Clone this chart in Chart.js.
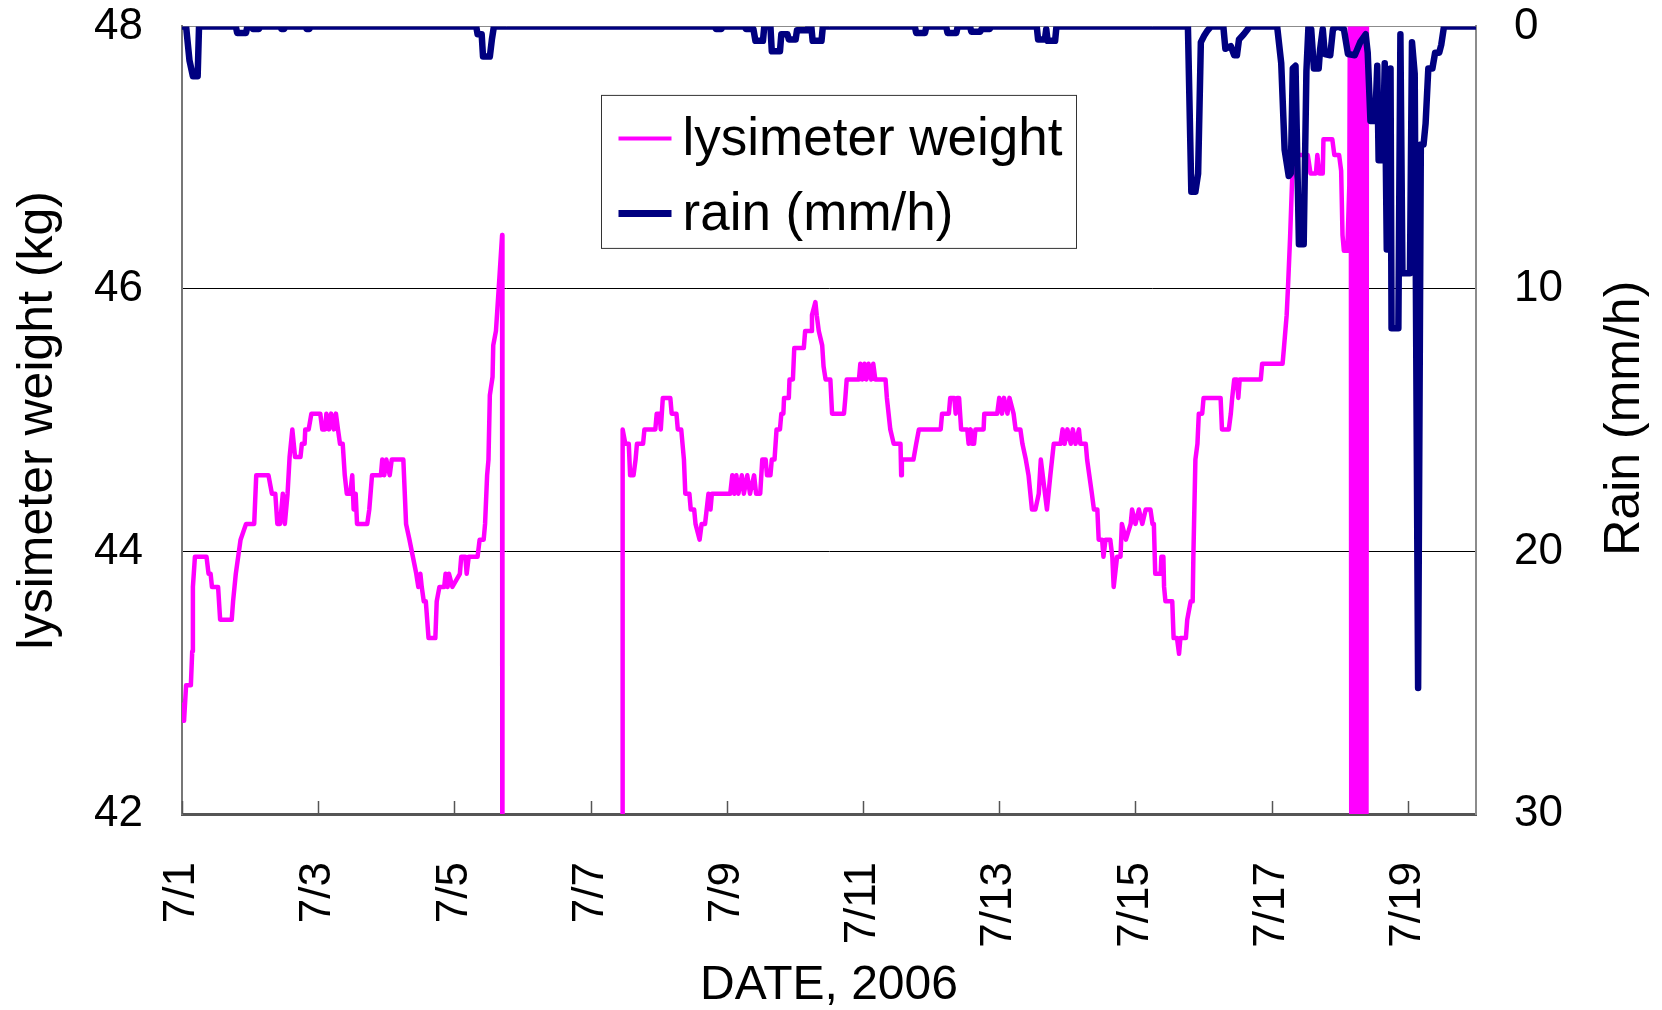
<!DOCTYPE html>
<html>
<head>
<meta charset="utf-8">
<script src="https://cdn.jsdelivr.net/npm/chart.js@4.4.1/dist/chart.umd.min.js"></script>
<style>
html,body{margin:0;padding:0;background:#fff;}
#wrap{width:1662px;height:1010px;position:relative;}
</style>
</head>
<body>
<div id="wrap"><canvas id="c" width="1662" height="1010"></canvas></div>
<script>
// ---- axis ticks / labels ----
const xTickDays = [0, 2, 4, 6, 8, 10, 12, 14, 16, 18];
const xTickLabels = ['7/1', '7/3', '7/5', '7/7', '7/9', '7/11', '7/13', '7/15', '7/17', '7/19'];
const weightTicks = [42, 44, 46, 48];
const rainTicks = [0, 10, 20, 30];
const xTitle = 'DATE, 2006';
const yTitle = 'lysimeter weight (kg)';
const y2Title = 'Rain (mm/h)';

// ---- lysimeter weight (days since 7/1 00:00, kg) ----
const weightDays = [
  0.00,0.03,0.06,0.13,0.15,0.16,0.19,0.36,0.39,0.42,0.44,0.53,0.56,0.73,0.75,0.79,0.86,0.94,1.06,1.09,
  1.27,1.32,1.37,1.40,1.44,1.48,1.51,1.55,1.58,1.62,1.66,1.74,1.76,1.80,1.81,1.86,1.90,2.03,2.06,2.10,
  2.12,2.16,2.19,2.23,2.26,2.29,2.32,2.36,2.39,2.42,2.47,2.50,2.52,2.55,2.57,2.72,2.75,2.79,2.92,2.94,
  2.97,3.00,3.05,3.08,3.25,3.29,3.34,3.39,3.44,3.47,3.50,3.52,3.55,3.58,3.62,3.72,3.74,3.78,3.85,3.87,
  3.90,3.92,3.97,4.08,4.10,4.16,4.18,4.21,4.34,4.37,4.43,4.45,4.48,4.50,4.52,4.56,4.57,4.61,4.65,4.70,
  4.705,5.50,6.465,
  6.47,6.51,6.56,6.58,6.63,6.66,6.68,6.77,6.79,6.95,6.97,7.01,7.03,7.06,7.17,7.19,7.26,7.28,7.33,7.37,
  7.39,7.45,7.47,7.52,7.54,7.60,7.63,7.68,7.73,7.76,7.78,8.05,8.08,8.11,8.14,8.17,8.22,8.25,8.30,8.34,
  8.40,8.43,8.49,8.52,8.57,8.59,8.64,8.66,8.70,8.73,8.78,8.80,8.83,8.84,8.91,8.92,8.97,8.99,9.13,9.15,
  9.24,9.25,9.30,9.32,9.35,9.40,9.42,9.45,9.52,
  9.545,9.72,9.74,9.76,9.94,9.96,9.99,10.02,10.05,10.08,10.12,10.15,10.18,10.33,10.35,10.40,10.45,10.55,10.56,10.57,
  10.74,10.78,10.82,11.14,11.16,11.26,11.28,11.34,11.36,11.38,11.41,11.44,11.53,11.55,11.58,11.60,11.63,11.65,11.77,11.78,
  11.97,12.00,12.04,12.07,12.12,12.15,12.21,12.24,12.31,12.34,12.39,12.43,12.48,12.53,12.58,12.61,12.70,12.75,12.80,12.90,
  12.93,12.96,13.00,13.05,13.08,13.12,13.17,13.19,13.27,13.29,13.36,13.39,13.44,13.46,13.51,13.53,13.56,13.63,13.66,13.68,
  13.73,13.78,13.80,13.86,13.93,13.95,14.00,14.05,14.10,14.15,14.22,14.25,14.27,14.29,14.37,14.38,14.41,14.42,14.44,14.54,
  14.56,14.61,14.64,14.66,14.74,14.76,14.81,14.84,14.85,14.86,14.88,14.91,14.93,14.98,15.00,15.25,15.27,15.37,15.40,15.42,
  15.45,15.49,15.51,15.53,15.56,15.84,15.86,16.16,16.18,16.22,16.24,16.27,16.30,16.36,16.53,16.57,16.65,16.67,16.70,16.75,
  16.76,16.89,16.92,16.99,17.02,17.04,17.06,17.11,17.14,
  17.16,17.17,17.18,17.19,17.20,17.21,17.22,17.23,17.24,17.25,17.26,17.27,17.28,17.29,17.30,17.31,17.32,17.33,17.34,17.35,
  17.36,17.37,17.38,17.39,17.40
];
const weightKg = [
  42.85,42.71,42.98,42.98,43.24,43.73,43.96,43.96,43.83,43.83,43.73,43.73,43.48,43.48,43.62,43.83,44.09,44.21,44.21,44.58,
  44.58,44.44,44.44,44.21,44.21,44.44,44.21,44.44,44.72,44.93,44.72,44.72,44.82,44.82,44.93,44.93,45.05,45.05,44.93,44.93,
  45.05,44.93,45.05,44.93,45.05,44.93,44.82,44.82,44.58,44.44,44.44,44.58,44.32,44.44,44.21,44.21,44.32,44.58,44.58,44.70,
  44.58,44.70,44.58,44.70,44.70,44.21,44.09,43.96,43.83,43.73,43.83,43.73,43.62,43.62,43.34,43.34,43.62,43.73,43.73,43.83,
  43.73,43.83,43.73,43.83,43.96,43.96,43.83,43.96,43.96,44.09,44.09,44.21,44.58,44.70,45.19,45.33,45.57,45.68,46.00,46.41,
  38,null,38,
  44.93,44.82,44.82,44.58,44.58,44.70,44.82,44.82,44.93,44.93,45.05,45.05,44.93,45.17,45.17,45.05,45.05,44.93,44.93,44.70,
  44.44,44.44,44.32,44.32,44.21,44.09,44.21,44.21,44.44,44.32,44.44,44.44,44.58,44.44,44.58,44.44,44.58,44.44,44.58,44.44,
  44.58,44.44,44.44,44.70,44.70,44.58,44.58,44.70,44.70,44.93,44.93,45.05,45.05,45.17,45.17,45.31,45.31,45.55,45.55,45.68,
  45.68,45.80,45.90,45.80,45.68,45.57,45.41,45.31,45.31,
  45.05,45.05,45.17,45.31,45.31,45.43,45.31,45.43,45.31,45.43,45.31,45.43,45.31,45.31,45.17,44.93,44.82,44.82,44.58,44.70,
  44.70,44.82,44.93,44.93,45.05,45.05,45.17,45.17,45.05,45.17,45.17,44.93,44.93,44.82,44.93,44.82,44.82,44.93,44.93,45.05,
  45.05,45.17,45.05,45.17,45.05,45.17,45.05,44.93,44.93,44.82,44.70,44.58,44.32,44.32,44.44,44.70,44.32,44.58,44.82,44.82,
  44.93,44.82,44.93,44.82,44.93,44.82,44.93,44.82,44.82,44.70,44.44,44.32,44.32,44.09,44.09,43.96,44.09,44.09,43.96,43.73,
  43.96,43.96,44.21,44.09,44.21,44.32,44.21,44.32,44.21,44.32,44.32,44.21,44.21,43.83,43.83,43.96,43.96,43.73,43.62,43.62,
  43.34,43.34,43.22,43.34,43.34,43.48,43.62,43.62,43.96,44.21,44.70,44.82,45.05,45.05,45.17,45.17,44.93,44.93,45.05,45.17,
  45.31,45.31,45.17,45.31,45.31,45.31,45.43,45.43,45.55,45.80,46.02,46.39,46.83,47.02,47.02,46.88,46.88,47.02,46.88,46.88,
  47.14,47.14,47.02,47.02,46.90,46.41,46.29,46.29,46.79,
  50,40,50,40,50,40,50,40,50,40,50,40,50,40,50,40,50,40,50,40,
  50,40,50,40,50
];

// ---- rain (days since 7/1 00:00, mm/h) ----
const rainDays = [
  0.00,0.06,0.11,0.16,0.23,0.25,0.79,0.81,0.94,0.96,1.02,1.04,1.13,1.15,1.44,1.46,1.50,1.52,1.81,1.83,
  1.87,1.89,4.32,4.34,4.40,4.42,4.52,4.55,4.58,7.82,7.84,7.92,7.94,8.26,8.28,8.39,8.42,8.53,8.55,8.64,
  8.66,8.78,8.80,8.89,8.91,9.01,9.03,9.18,9.20,9.24,9.26,9.39,9.41,10.76,10.78,10.91,10.93,11.22,11.24,11.37,
  11.39,11.57,11.59,11.72,11.74,11.86,11.88,12.55,12.57,12.67,12.69,12.71,12.82,12.84,14.77,14.82,14.88,14.92,14.96,15.01,
  15.06,15.11,15.29,15.32,15.40,15.45,15.49,15.52,15.59,15.65,15.67,16.08,16.14,16.19,16.25,16.28,16.31,16.35,16.40,16.47,
  16.51,16.54,16.58,16.62,16.69,16.71,16.75,16.78,16.86,16.90,16.97,17.06,17.12,17.22,17.30,17.38,17.41,17.45,17.52,17.55,
  17.57,17.63,17.66,17.69,17.73,17.745,17.76,17.86,17.89,17.92,18.03,18.06,18.10,18.15,18.19,18.23,18.26,18.30,18.36,18.40,
  18.46,18.49,18.53,19.00
];
const rainMm = [
  0,0,1.3,1.9,1.9,0,0,0.25,0.25,0,0,0.1,0.1,0,0,0.1,0.1,0,0,0.1,
  0.1,0,0,0.3,0.3,1.15,1.15,0.5,0,0,0.1,0.1,0,0,0.1,0.1,0.55,0.55,0,0,
  0.95,0.95,0.3,0.3,0.5,0.5,0.15,0.15,0,0,0.55,0.55,0,0,0.25,0.25,0,0,0.25,0.25,
  0,0,0.2,0.2,0.1,0.1,0,0,0.5,0.5,0.1,0.55,0.55,0,0,6.3,6.3,5.6,0.6,0.35,
  0.15,0,0,0.85,0.75,1.1,1.1,0.5,0.3,0.1,0,0,1.4,4.7,5.7,5.6,1.6,1.5,8.3,8.3,
  1.7,0,0.1,1.6,1.6,0.9,0.1,1.05,1.1,0.1,0,0.1,1.05,1.1,0.6,0.3,1.0,3.6,3.6,1.5,
  5.1,5.1,1.4,8.5,8.5,1.6,11.5,11.5,0.3,9.4,9.4,0.6,1.8,25.2,4.5,4.5,3.7,1.6,1.6,1.0,
  1.0,0.7,0,0
];

const FONT = "'Liberation Sans', Arial, sans-serif";
const BLACK = '#000000';
const CLEAR = 'rgba(0,0,0,0)';

const innerTicks = {
  id: 'innerTicks',
  beforeDatasetsDraw(chart) {
    const {ctx, chartArea: a} = chart;
    const xs = chart.scales.x;
    ctx.save();
    ctx.strokeStyle = '#555555';
    ctx.lineWidth = 1.5;
    xs.ticks.forEach(t => {
      const px = Math.round(xs.getPixelForValue(t.value)) + 0.5;
      ctx.beginPath();
      ctx.moveTo(px, a.bottom);
      ctx.lineTo(px, a.bottom - 13);
      ctx.stroke();
    });
    ctx.restore();
  }
};

const boxLegend = {
  id: 'boxLegend',
  afterDatasetsDraw(chart) {
    const {ctx, chartArea: a} = chart;
    const bx = a.left + 419.5, by = a.top + 69, bw = 475, bh = 153;
    ctx.save();
    ctx.fillStyle = '#ffffff';
    ctx.fillRect(bx, by, bw, bh);
    ctx.strokeStyle = '#333333';
    ctx.lineWidth = 1;
    ctx.strokeRect(bx, by, bw, bh);
    const order = [1, 0];
    order.forEach((di, i) => {
      const ds = chart.data.datasets[di];
      const y = by + 43 + i * 75;
      ctx.strokeStyle = ds.borderColor;
      ctx.lineWidth = di === 1 ? 4 : 7;
      ctx.beginPath();
      ctx.moveTo(bx + 17, y);
      ctx.lineTo(bx + 70, y);
      ctx.stroke();
      ctx.fillStyle = BLACK;
      ctx.font = '53px ' + FONT;
      ctx.textAlign = 'left';
      ctx.textBaseline = 'alphabetic';
      ctx.fillText(ds.label, bx + 81, y + 17);
    });
    ctx.restore();
  }
};

const rightTitle = {
  id: 'rightTitle',
  afterDraw(chart) {
    const {ctx, chartArea: a} = chart;
    ctx.save();
    ctx.translate(1625, (a.top + a.bottom) / 2 - 2);
    ctx.rotate(-Math.PI / 2);
    ctx.fillStyle = BLACK;
    ctx.font = '50px ' + FONT;
    ctx.textAlign = 'center';
    ctx.textBaseline = 'middle';
    ctx.fillText(y2Title, 0, 0);
    ctx.restore();
  }
};

new Chart(document.getElementById('c'), {
  type: 'line',
  data: {
    datasets: [
      {
        label: 'rain (mm/h)',
        data: rainDays.map((d, i) => ({x: d, y: rainMm[i]})),
        yAxisID: 'y2',
        borderColor: '#000080',
        backgroundColor: '#000080',
        borderWidth: 6.5,
        pointRadius: 0,
        tension: 0,
        fill: false,
        borderJoinStyle: 'round',
        order: 1
      },
      {
        label: 'lysimeter weight',
        data: weightDays.map((d, i) => ({x: d, y: weightKg[i]})),
        yAxisID: 'y',
        borderColor: '#FF00FF',
        backgroundColor: '#FF00FF',
        borderWidth: 4.5,
        pointRadius: 0,
        tension: 0,
        fill: false,
        spanGaps: false,
        borderJoinStyle: 'round',
        order: 2
      }
    ]
  },
  options: {
    responsive: false,
    animation: false,
    devicePixelRatio: 1,
    events: [],
    layout: {padding: 0},
    plugins: {legend: {display: false}, tooltip: {enabled: false}},
    scales: {
      x: {
        type: 'linear',
        min: 0,
        max: 19,
        afterBuildTicks: s => { s.ticks = xTickDays.map(v => ({value: v})); },
        afterFit: s => { s.height = 196; },
        grid: {display: false, drawTicks: false},
        border: {display: true, color: '#555555', width: 3},
        ticks: {
          autoSkip: false,
          minRotation: 90,
          maxRotation: 90,
          padding: 48,
          color: BLACK,
          font: {family: FONT, size: 44},
          callback: v => { const i = xTickDays.indexOf(v); return i >= 0 ? xTickLabels[i] : ''; }
        },
        title: {display: true, text: xTitle, color: BLACK, font: {family: FONT, size: 48, lineHeight: 1}, padding: 0}
      },
      y: {
        type: 'linear',
        position: 'left',
        min: 42,
        max: 48,
        afterBuildTicks: s => { s.ticks = weightTicks.map(v => ({value: v})); },
        afterFit: s => { s.width = 182; },
        grid: {
          drawTicks: true,
          tickLength: 39,
          tickColor: CLEAR,
          lineWidth: 1,
          color: c => (c.tick && (c.tick.value === 44 || c.tick.value === 46)) ? '#000000' : (c.tick && c.tick.value === 48 ? '#8c8c8c' : CLEAR)
        },
        border: {display: true, color: '#777777', width: 2},
        ticks: {padding: 0, color: BLACK, font: {family: FONT, size: 44}},
        title: {display: true, text: yTitle, color: BLACK, font: {family: FONT, size: 50, lineHeight: 1}, padding: {top: 13, bottom: 0}}
      },
      y2: {
        type: 'linear',
        position: 'right',
        min: 0,
        max: 30,
        reverse: true,
        afterBuildTicks: s => { s.ticks = rainTicks.map(v => ({value: v})); },
        afterFit: s => { s.width = 186; },
        grid: {display: true, drawOnChartArea: false, drawTicks: true, tickLength: 38, tickColor: CLEAR, color: CLEAR},
        border: {display: true, color: '#8c8c8c', width: 2},
        ticks: {padding: 0, color: BLACK, font: {family: FONT, size: 44}}
      }
    }
  },
  plugins: [innerTicks, boxLegend, rightTitle]
});
</script>
</body>
</html>
